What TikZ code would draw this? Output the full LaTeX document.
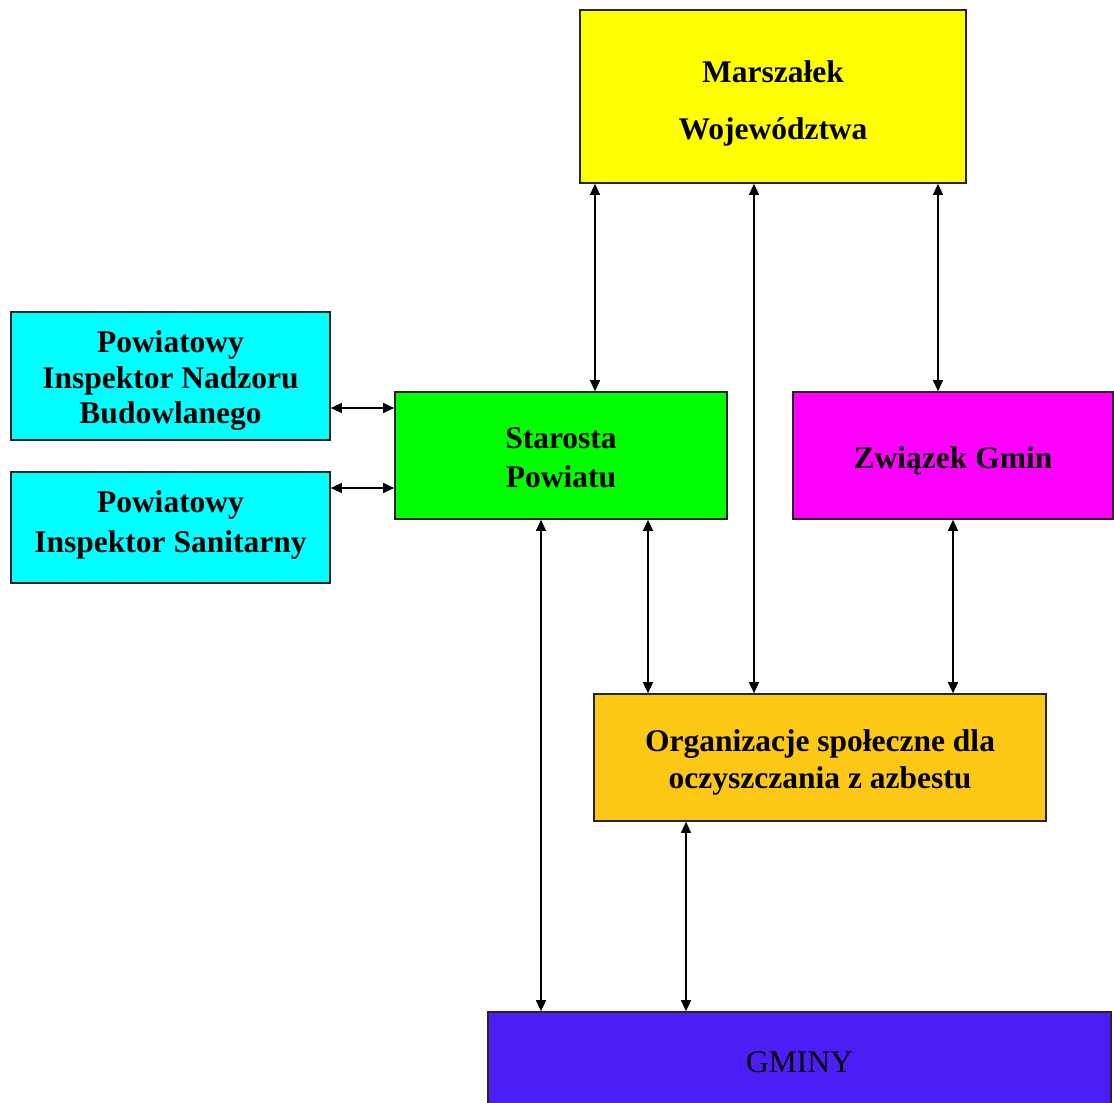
\documentclass[tikz,border=0pt]{standalone}
\usepackage{fontspec}
\setmainfont{Liberation Serif}
\usetikzlibrary{arrows.meta}
\definecolor{cyanbox}{HTML}{00FFFF}
\definecolor{greenbox}{HTML}{00FF00}
\definecolor{yellowbox}{HTML}{FFFF00}
\definecolor{magbox}{HTML}{FF00FF}
\definecolor{orgbox}{HTML}{FCC815}
\definecolor{gminybox}{HTML}{4B1EF5}
\begin{document}
\begin{tikzpicture}[x=1pt,y=-1pt,
  box/.style={draw=black!85,line width=1.6pt,rectangle,inner sep=0pt},
  txt/.style={align=center,inner sep=0pt,font=\fontsize{31.5}{37}\selectfont\bfseries},
  link/.style={line width=1.2pt,{Triangle[length=11pt,width=10pt]}-{Triangle[length=11pt,width=10pt]}}]
\useasboundingbox (0,0) rectangle (1114,1103);
\clip (0,0) rectangle (1114,1103);
\node[box,fill=yellowbox,minimum width=386pt,minimum height=173pt,
  label={[txt,yshift=-7pt]center:{Marszałek\\[20pt]Województwa}}] (marsz) at (773,96.5) {};
\node[box,fill=cyanbox,minimum width=319pt,minimum height=128pt,
  label={[txt,yshift=-5pt,font=\fontsize{31.5}{35.5}\selectfont\bfseries]center:{Powiatowy\\Inspektor Nadzoru\\Budowlanego}}] (pinb) at (170.5,376) {};
\node[box,fill=cyanbox,minimum width=319pt,minimum height=111pt,
  label={[txt,yshift=3pt,font=\fontsize{31.5}{40}\selectfont\bfseries]center:{Powiatowy\\Inspektor Sanitarny}}] (pis) at (170.5,527.5) {};
\node[box,fill=greenbox,minimum width=332pt,minimum height=127pt,
  label={[txt,yshift=-2pt,font=\fontsize{31.5}{39}\selectfont\bfseries]center:{Starosta\\Powiatu}}] (star) at (561,455.5) {};
\node[box,fill=magbox,minimum width=320pt,minimum height=127pt,
  label={[txt,yshift=-5pt]center:{Związek Gmin}}] (zw) at (953,455.5) {};
\node[box,fill=orgbox,minimum width=452pt,minimum height=127pt,
  label={[txt,yshift=-5pt]center:{Organizacje społeczne dla\\oczyszczania z azbestu}}] (org) at (820,757.5) {};
\node[box,fill=gminybox,minimum width=623pt,minimum height=96pt,
  label={[txt,yshift=-2pt,font=\fontsize{31.5}{37}\selectfont]center:{GMINY}}] (gminy) at (799.5,1060) {};
% connectors
\draw[link] (marsz.south -| 595,0) -- (star.north -| 595,0);
\draw[link] (marsz.south -| 754,0) -- (org.north -| 754,0);
\draw[link] (marsz.south -| 938,0) -- (zw.north -| 938,0);
\draw[link] (pinb.east |- 0,408) -- (star.west |- 0,408);
\draw[link] (pis.east |- 0,488) -- (star.west |- 0,488);
\draw[link] (star.south -| 648,0) -- (org.north -| 648,0);
\draw[link] (star.south -| 541,0) -- (gminy.north -| 541,0);
\draw[link] (zw.south -| 953,0) -- (org.north -| 953,0);
\draw[link] (org.south -| 686,0) -- (gminy.north -| 686,0);
\end{tikzpicture}
\end{document}
